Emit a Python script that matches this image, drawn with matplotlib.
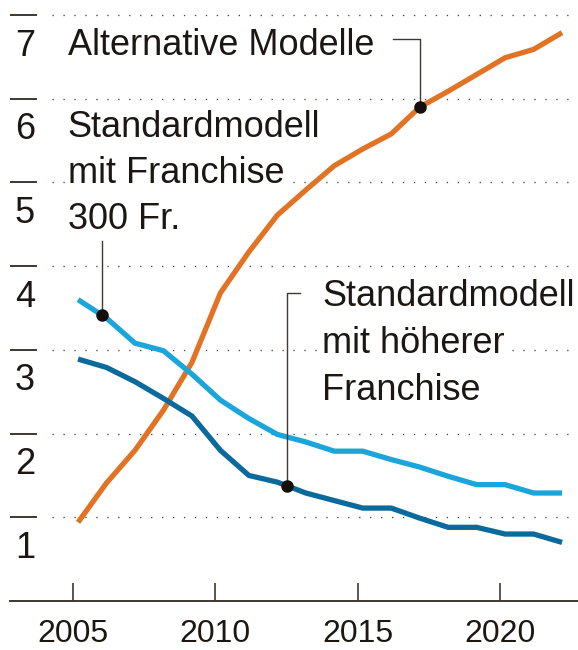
import numpy as np
import matplotlib
matplotlib.use("Agg")
import matplotlib.pyplot as plt
from matplotlib.transforms import blended_transform_factory

plt.rcParams['font.family'] = ['Liberation Sans', 'DejaVu Sans']

# ---- data ----
years = list(range(2005, 2023))
alternative = [0.94, 1.41, 1.80, 2.28, 2.85, 3.68, 4.17, 4.61, 4.91, 5.20,
               5.40, 5.58, 5.90, 6.09, 6.29, 6.49, 6.59, 6.79]
standard_300 = [3.60, 3.38, 3.08, 2.99, 2.71, 2.40, 2.18, 1.99, 1.90, 1.79,
                1.79, 1.69, 1.60, 1.49, 1.39, 1.39, 1.29, 1.29]
standard_high = [2.89, 2.79, 2.62, 2.42, 2.21, 1.80, 1.50, 1.42, 1.29, 1.20,
                 1.11, 1.11, 0.99, 0.88, 0.88, 0.80, 0.80, 0.70]
y_ticks = [1, 2, 3, 4, 5, 6, 7]
x_ticks = [2005, 2010, 2015, 2020]

ORANGE = '#E27324'
LIGHT = '#1AA5DB'
DARK = '#0A6A9C'
TEXT = '#1c1712'
AXC = '#3f3832'

fig = plt.figure(figsize=(5.78, 6.5), dpi=100)
ax = fig.add_axes([10 / 578, 49 / 650, 568 / 578, 601 / 650])
ax.set_xlim(2002.79, 2022.74)
ax.set_ylim(0, 7.18)

for s in ['top', 'right', 'left']:
    ax.spines[s].set_visible(False)
ax.spines['bottom'].set_color(AXC)
ax.spines['bottom'].set_linewidth(1.4)

ax.set_xticks(x_ticks)
ax.set_xticklabels([str(x) for x in x_ticks])
ax.tick_params(axis='x', direction='in', length=13, width=1.2, color=AXC,
               labelsize=23, labelcolor=TEXT, pad=13)
ax.set_yticks(y_ticks)
ax.set_yticklabels([])
ax.tick_params(axis='y', direction='in', length=19.4, width=1.4, color=AXC)

# dotted gridlines
for yv in y_ticks:
    ax.axhline(yv, xmin=42 / 568, xmax=1, color='#4a4440', lw=0.95,
               linestyle=(0, (1, 7.3)), zorder=1)

trans = blended_transform_factory(ax.transAxes, ax.transData)
for yv in y_ticks:
    ax.text(15 / 568, yv - 0.485, str(yv), transform=trans, ha='center',
            va='baseline', fontsize=26, color=TEXT)

xs = np.array(years) + 0.18
for series, col in [(alternative, ORANGE), (standard_300, LIGHT),
                    (standard_high, DARK)]:
    ax.plot(xs, series, color=col, lw=3.8, solid_capstyle='butt',
            solid_joinstyle='round', zorder=3)

bbox = dict(facecolor='white', edgecolor='none', pad=1.5)

def label_lines(x, baselines, lines):
    for b, t in zip(baselines, lines):
        ax.text(x, b, t, ha='left', va='baseline', fontsize=26, color=TEXT,
                bbox=bbox, zorder=2.5)

# Alternative Modelle
label_lines(2004.82, [6.52], ['Alternative Modelle'])
dx = 2017.19
dy = np.interp(dx, xs, alternative)
ax.plot([2016.24, dx, dx], [6.71, 6.71, dy], color=AXC, lw=1.0, zorder=4)
ax.plot([dx], [dy], 'o', color='#140f0a', ms=8, zorder=5)

# Standardmodell mit Franchise 300 Fr.
label_lines(2004.82, [5.54, 4.99, 4.44],
            ['Standardmodell', 'mit Franchise', '300 Fr.'])
dx = 2006.02
dy = np.interp(dx, xs, standard_300)
ax.plot([dx, dx], [4.30, dy], color=AXC, lw=1.0, zorder=4)
ax.plot([dx], [dy], 'o', color='#140f0a', ms=8, zorder=5)

# Standardmodell mit höherer Franchise
label_lines(2013.75, [3.52, 2.96, 2.40],
            ['Standardmodell', 'mit höherer', 'Franchise'])
dx = 2012.52
dy = np.interp(dx, xs, standard_high)
ax.plot([2012.97, dx, dx], [3.68, 3.68, dy], color=AXC, lw=1.0, zorder=4)
ax.plot([dx], [dy], 'o', color='#140f0a', ms=8, zorder=5)

fig.savefig('out.png', dpi=100)
